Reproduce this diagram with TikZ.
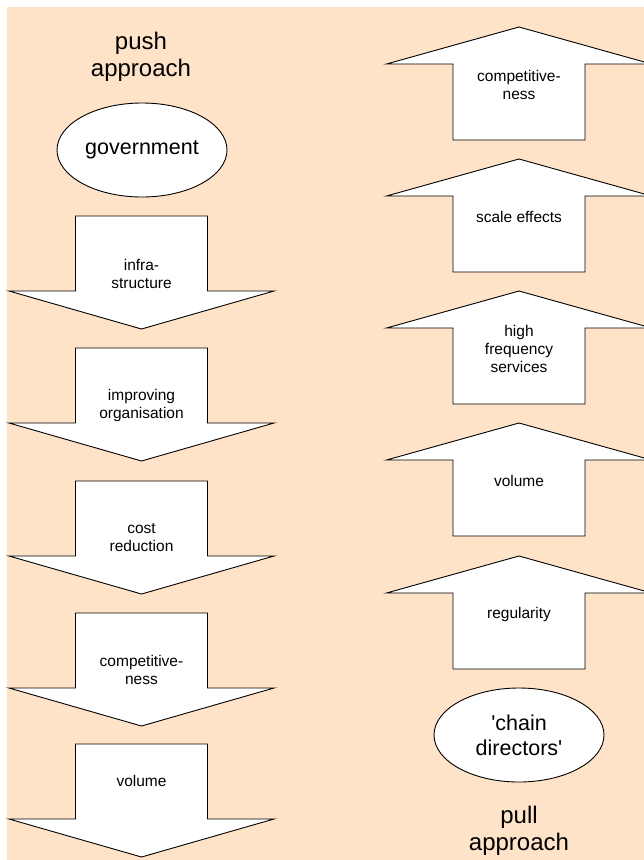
\documentclass[tikz,border=0pt]{standalone}
\usepackage{fontspec}
\newfontfamily\arialfont{Liberation Sans}
\usetikzlibrary{shapes.geometric}
\definecolor{peach}{RGB}{255,227,200}
\begin{document}
\begin{tikzpicture}[x=1pt,y=-1pt,
  shapeline/.style={draw=black, line width=0.9pt, fill=white, line join=miter},
  bigtext/.style={font=\arialfont\fontsize{24}{27.5}\selectfont, align=center, inner sep=0pt},
  ovaltext/.style={font=\arialfont\fontsize{21.5}{25}\selectfont, align=center},
  smalltext/.style={font=\arialfont\fontsize{15.5}{18}\selectfont, align=center, inner sep=0pt},
  oval/.style={shapeline, ellipse, minimum width=170pt, minimum height=94pt, inner sep=0pt}]
\useasboundingbox (0,0) rectangle (644,860);
\clip (0,0) rectangle (644,860);
\fill[peach] (7,7) rectangle (644,860);

% push side: down arrows
\foreach \t in {216,348,481,613,744} {
  \draw[shapeline] (75.5,\t) -- (207.5,\t) -- (207.5,\t+75) -- (274,\t+75)
    -- (141.5,\t+113) -- (9,\t+75) -- (75.5,\t+75) -- cycle;
}
% pull side: up arrows
\foreach \p in {27,159,291,423,556} {
  \draw[shapeline] (453,\p+113) -- (585,\p+113) -- (585,\p+37) -- (651.5,\p+37)
    -- (519,\p) -- (386.5,\p+37) -- (453,\p+37) -- cycle;
}

\node[bigtext] (push) at (141,57) {push\\approach};
\node[oval, ovaltext] (gov) at (142,150) {government};

\node[smalltext] (l1) at (141.5,274) {infra-\\structure};
\node[smalltext] (l2) at (141.5,405) {improving\\organisation};
\node[smalltext] (l3) at (141.5,537.5) {cost\\reduction};
\node[smalltext] (l4) at (141.5,670) {competitive-\\ness};
\node[smalltext] (l5) at (141.5,781) {volume};

\node[smalltext] (r1) at (519,85) {competitive-\\ness};
\node[smalltext] (r2) at (519,217) {scale effects};
\node[smalltext] (r3) at (519,349) {high\\frequency\\services};
\node[smalltext] (r4) at (519,481) {volume};
\node[smalltext] (r5) at (519,614) {regularity};

\node[oval, ovaltext] (chain) at (519,735) {'chain\\directors'};
\node[bigtext] (pull) at (519,831) {pull\\approach};
\end{tikzpicture}
\end{document}
